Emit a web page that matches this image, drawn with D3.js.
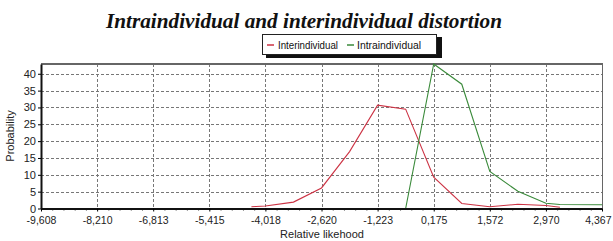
<!DOCTYPE html>
<html><head><meta charset="utf-8">
<script src="https://cdn.jsdelivr.net/npm/d3@7"></script>
<style>body{margin:0;background:#fff}svg{display:block}</style>
</head><body>
<svg id="c" width="613" height="241"></svg>
<script>
const title = "Intraindividual and interindividual distortion";
const seriesNames = ["Interindividual", "Intraindividual"];
const xTickValues = [-9.608, -8.210, -6.813, -5.415, -4.018, -2.620, -1.223, 0.175, 1.572, 2.970, 4.367];
const xTickLabels = ["-9,608", "-8,210", "-6,813", "-5,415", "-4,018", "-2,620", "-1,223", "0,175", "1,572", "2,970", "4,367"];
const yTickValues = [0, 5, 10, 15, 20, 25, 30, 35, 40];
const interX = [-4.367, -4.018, -3.319, -2.620, -1.921, -1.223, -0.524, 0.175, 0.874, 1.572, 2.271, 2.970, 3.319];
const interY = [0.5, 0.75, 1.9, 6.1, 16.9, 30.7, 29.5, 9.3, 1.5, 0.5, 1.25, 0.9, 0.35];
const intraX = [-0.524, 0.175, 0.874, 1.572, 2.271, 2.970, 3.319, 4.367];
const intraY = [0, 42.9, 36.9, 11.0, 5.1, 1.55, 1.2, 1.1];

const svg = d3.select("#c");
const L = 41, R = 602, T = 64, B = 208.5;
const x = d3.scaleLinear().domain([-9.608, 4.367]).range([L, R]);
const y = d3.scaleLinear().domain([0, 42.9]).range([B, T]);
const sans = "Liberation Sans, Arial, sans-serif";

// title
svg.append("text").attr("x", 304).attr("y", 28).attr("text-anchor", "middle")
  .attr("font-family", "Liberation Serif, Times New Roman, serif")
  .attr("font-weight", "bold").attr("font-style", "italic").attr("font-size", 21)
  .attr("textLength", 396).attr("lengthAdjust", "spacingAndGlyphs")
  .attr("fill", "#111").text(title);

// legend
const lg = svg.append("g");
lg.append("rect").attr("x", 266).attr("y", 37).attr("width", 176).attr("height", 21).attr("fill", "#111");
lg.append("rect").attr("x", 262.5).attr("y", 34.5).attr("width", 174).attr("height", 20).attr("fill", "#fff").attr("stroke", "#222");
const colors = ["#cc3344", "#3a8a3a"];
const lgPos = [[267, 278, 60], [347, 357, 64]];
seriesNames.forEach((n, i) => {
  lg.append("line").attr("x1", lgPos[i][0]).attr("x2", lgPos[i][0] + 7).attr("y1", 45).attr("y2", 45)
    .attr("stroke", colors[i]).attr("stroke-width", 1.5);
  lg.append("text").attr("x", lgPos[i][1]).attr("y", 49).attr("font-family", sans)
    .attr("font-size", 11).attr("textLength", lgPos[i][2]).attr("lengthAdjust", "spacingAndGlyphs")
    .attr("fill", "#111").text(n);
});

// grid
const g = svg.append("g");
g.selectAll(".hg").data(yTickValues.slice(1)).join("line")
  .attr("x1", L).attr("x2", R).attr("y1", d => Math.round(y(d)) + 0.5).attr("y2", d => Math.round(y(d)) + 0.5)
  .attr("stroke", "#777").attr("stroke-dasharray", "3,2");
g.selectAll(".vg").data(xTickValues.slice(1, -1)).join("line")
  .attr("x1", d => Math.round(x(d)) + 0.5).attr("x2", d => Math.round(x(d)) + 0.5).attr("y1", T).attr("y2", B)
  .attr("stroke", "#777").attr("stroke-dasharray", "3,2");

// frame top/right
svg.append("line").attr("x1", L).attr("x2", R + 1).attr("y1", T).attr("y2", T).attr("stroke", "#666").attr("stroke-width", 2);
svg.append("line").attr("x1", R + 0.5).attr("x2", R + 0.5).attr("y1", T).attr("y2", B).attr("stroke", "#666").attr("stroke-width", 1);

// series
const line = d3.line().x(d => x(d[0])).y(d => y(d[1]));
svg.append("path").datum(interX.map((v, i) => [v, interY[i]])).attr("d", line)
  .attr("fill", "none").attr("stroke", colors[0]).attr("stroke-width", 1.1);
svg.append("path").datum(intraX.map((v, i) => [v, intraY[i]])).attr("d", line)
  .attr("fill", "none").attr("stroke", colors[1]).attr("stroke-width", 1.1);

// axes
const xAxis = d3.axisBottom(x).tickValues(xTickValues).tickFormat((d, i) => xTickLabels[i]).tickSize(3).tickSizeOuter(0);
const minor = [];
for (let i = 0; i < xTickValues.length - 1; i++) for (let k = 1; k < 5; k++) minor.push(xTickValues[i] + (xTickValues[i + 1] - xTickValues[i]) * k / 5);
svg.append("g").attr("transform", `translate(0,${B})`).call(d3.axisBottom(x).tickValues(minor).tickFormat("").tickSize(2).tickSizeOuter(0))
  .call(a => a.select(".domain").remove()).selectAll("line").attr("stroke", "#333");
const xa = svg.append("g").attr("transform", `translate(0,${B})`).call(xAxis);
xa.select(".domain").attr("stroke", "#111").attr("stroke-width", 2);
xa.selectAll("text").attr("font-family", sans).attr("font-size", 10.5).attr("fill", "#222").attr("dy", "0.9em");
xa.selectAll(".tick:last-of-type text").attr("text-anchor", "end").attr("x", 611 - R);

const ya = svg.append("g").attr("transform", `translate(${L},0)`).call(d3.axisLeft(y).tickValues(yTickValues).tickSize(3).tickSizeOuter(0));
ya.select(".domain").attr("stroke", "#111").attr("stroke-width", 2);
ya.selectAll("text").attr("font-family", sans).attr("font-size", 11).attr("fill", "#222").attr("x", -5);

svg.append("text").attr("transform", "translate(14,136) rotate(-90)").attr("text-anchor", "middle")
  .attr("font-family", sans).attr("font-size", 11).attr("fill", "#222").text("Probability");
svg.append("text").attr("x", 322).attr("y", 238).attr("text-anchor", "middle")
  .attr("font-family", sans).attr("font-size", 11).attr("fill", "#222").text("Relative likehood");
</script>
</body></html>
